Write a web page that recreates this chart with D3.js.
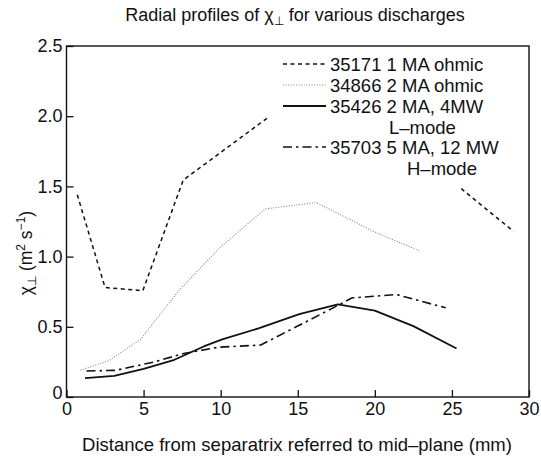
<!DOCTYPE html>
<html><head><meta charset="utf-8">
<script src="https://cdn.jsdelivr.net/npm/d3@7"></script>
<style>
body{margin:0;background:#fff;}
text{font-family:"Liberation Sans",Arial,Helvetica,sans-serif;fill:#111;}
</style></head>
<body><svg id="c" width="541" height="458"></svg>
<script>
// ---- data ----
const xTicks = [0,5,10,15,20,25,30];
const yTicks = [0,0.5,1.0,1.5,2.0,2.5];
const s35171 = [[0.7,1.44],[2.5,0.78],[4.95,0.757],[7.57,1.545],[13.0,1.985],[16.5,2.2],[21,1.95],[25.7,1.475],[29.0,1.18]];
const s34866 = [[0.9,0.19],[2.75,0.26],[4.8,0.41],[7.3,0.76],[10.0,1.07],[12.9,1.34],[16.2,1.385],[19.9,1.18],[22.9,1.04]];
const s35426 = [[1.2,0.135],[3.1,0.15],[5.0,0.2],[7.0,0.265],[8.9,0.36],[10.1,0.41],[12.5,0.49],[15.1,0.59],[17.6,0.66],[20.0,0.615],[22.5,0.505],[25.3,0.345]];
const s35703 = [[1.3,0.185],[3.2,0.19],[5.7,0.25],[7.6,0.31],[9.9,0.355],[12.6,0.37],[14.9,0.5],[17.3,0.635],[18.5,0.705],[21.4,0.73],[24.6,0.635]];
const legendLabels = [["35171 1 MA ohmic"],["34866 2 MA ohmic"],["35426 2 MA, 4MW","L\u2013mode"],["35703 5 MA, 12 MW","H\u2013mode"]];

const svg = d3.select("#c");
const x = d3.scaleLinear().domain([0,30]).range([66.5,529]);
const y = d3.scaleLinear().domain([0,2.5]).range([397,46]);

const styles = [
  {data:s35171, stroke:"#111", w:1.5, dash:"4,3.5"},
  {data:s34866, stroke:"#888", w:1.1, dash:"1,1.6"},
  {data:s35426, stroke:"#111", w:1.8, dash:null},
  {data:s35703, stroke:"#111", w:1.6, dash:"9,4,2.5,4"}
];
const line = d3.line().x(d=>x(d[0])).y(d=>y(d[1]));
styles.forEach(s=>{
  svg.append("path").datum(s.data).attr("d",line).attr("fill","none")
    .attr("stroke",s.stroke).attr("stroke-width",s.w)
    .attr("stroke-dasharray",s.dash).attr("stroke-linejoin","round");
});

// legend (white background)
const lg = svg.append("g");
lg.append("rect").attr("x",268).attr("y",48).attr("width",259).attr("height",140).attr("fill","#fff");
const rows = [64,85,106,147];
legendLabels.forEach((lab,i)=>{
  const s = styles[i];
  lg.append("line").attr("x1",283).attr("x2",326).attr("y1",rows[i]).attr("y2",rows[i])
    .attr("stroke",s.stroke).attr("stroke-width",s.w).attr("stroke-dasharray",s.dash);
  lg.append("text").attr("x",330).attr("y",rows[i]+6.5).attr("font-size",18.5).text(lab[0]);
  if(lab[1]) lg.append("text").attr("x",i===2?389:407).attr("y",rows[i]+27.5).attr("font-size",18.5).text(lab[1]);
});

// axes
const xa = svg.append("g").attr("transform","translate(0,397)")
  .call(d3.axisBottom(x).tickValues(xTicks).tickSize(-7).tickPadding(5).tickFormat(d3.format("d")));
const ya = svg.append("g").attr("transform","translate(66.5,0)")
  .call(d3.axisLeft(y).tickValues(yTicks).tickSize(-7).tickPadding(4).tickFormat(d=>d===0?"0":d.toFixed(1)));
[xa,ya].forEach(a=>{
  a.select(".domain").remove();
  a.selectAll(".tick line").attr("stroke","#111").attr("stroke-width",1.3);
  a.selectAll(".tick text").attr("font-size",18).attr("font-family","Liberation Sans, Arial, sans-serif").attr("fill","#111");
});
ya.selectAll(".tick text").filter(d=>d===0).attr("dy","0.1em");
svg.append("rect").attr("x",x(0)).attr("y",y(2.5)).attr("width",x(30)-x(0)).attr("height",y(0)-y(2.5))
  .attr("fill","none").attr("stroke","#111").attr("stroke-width",1.4);

// title
const t = svg.append("text").attr("x",295).attr("y",21).attr("text-anchor","middle").attr("font-size",18);
t.append("tspan").text("Radial profiles of \u03c7");
t.append("tspan").attr("font-size",12).attr("dy",4).text("\u22a5");
t.append("tspan").attr("dy",-4).text(" for various discharges");

// x title
svg.append("text").attr("x",297).attr("y",451).attr("text-anchor","middle").attr("font-size",18.5)
  .text("Distance from separatrix referred to mid\u2013plane (mm)");

// y title
const yt = svg.append("text").attr("transform","translate(32,253) rotate(-90)").attr("text-anchor","middle").attr("font-size",17.5);
yt.append("tspan").text("\u03c7");
yt.append("tspan").attr("font-size",12).attr("dy",4).text("\u22a5");
yt.append("tspan").attr("dy",-4).text(" (m");
yt.append("tspan").attr("font-size",12).attr("dy",-7).text("2");
yt.append("tspan").attr("dy",7).text(" s");
yt.append("tspan").attr("font-size",12).attr("dy",-7).text("\u22121");
yt.append("tspan").attr("dy",7).text(")");
</script></body></html>
